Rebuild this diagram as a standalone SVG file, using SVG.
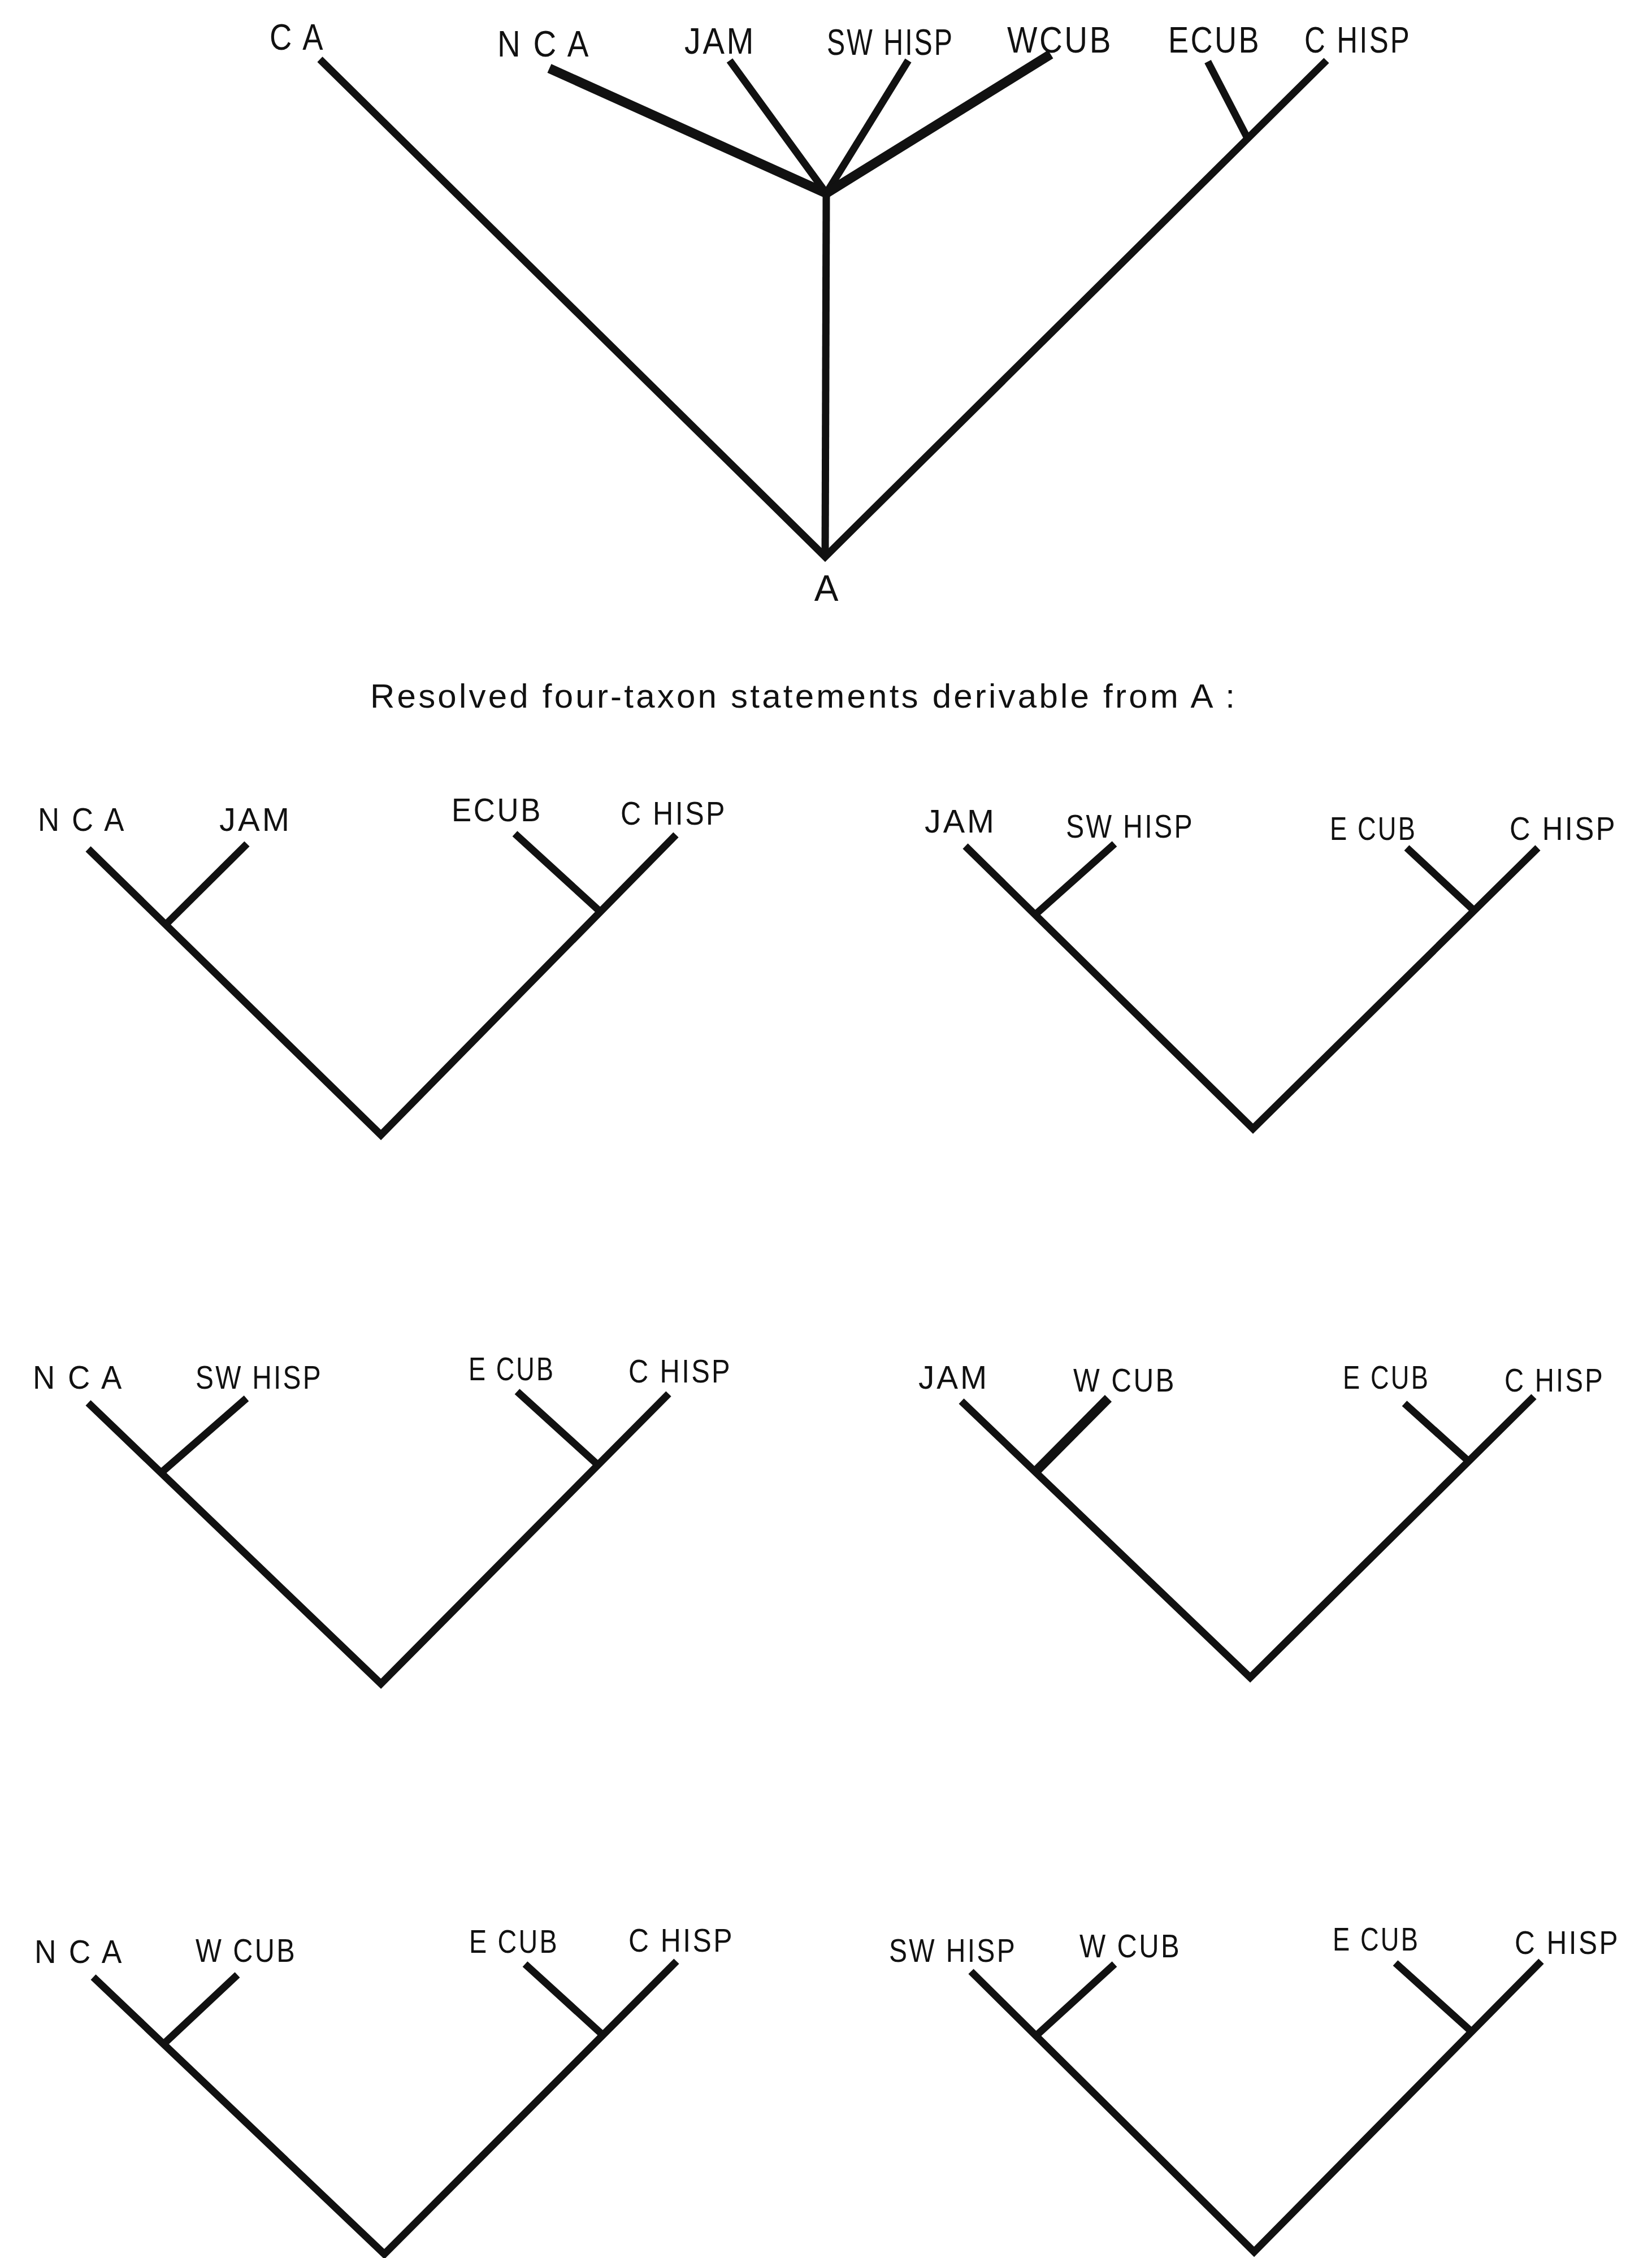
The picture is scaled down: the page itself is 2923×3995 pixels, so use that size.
<svg xmlns="http://www.w3.org/2000/svg" width="2923" height="3995" viewBox="0 0 2923 3995">
  <style>
    .bg { fill: #ffffff; }
    .br { fill: none; stroke: #111; stroke-width: 13; stroke-linecap: butt; stroke-linejoin: miter; stroke-miterlimit: 20; }
    .thick { stroke-width: 17; }
    .lbl { font-family: "Liberation Sans", Arial, sans-serif; font-size: 64px; letter-spacing: 4px; fill: #111; }
    .sm { font-size: 58px; }
    .cap { font-family: "Liberation Sans", Arial, sans-serif; font-size: 60px; fill: #111; }
  </style>
  <rect class="bg" x="0" y="0" width="2923" height="3995"/>

  <!-- Tree A: the full area cladogram with its polytomy -->
  <g id="tree-A">
    <g id="tree-A-branches">
      <polyline class="br" points="566,105 1460,985 2347,107"/>
      <line class="br" x1="1462" y1="342" x2="1460" y2="985"/>
      <line class="br thick" x1="972" y1="121" x2="1462" y2="342"/>
      <line class="br" x1="1291" y1="107" x2="1462" y2="342"/>
      <line class="br" x1="1607" y1="107" x2="1462" y2="342"/>
      <line class="br thick" x1="1859" y1="96" x2="1462" y2="342"/>
      <line class="br" x1="2137" y1="109" x2="2207" y2="244"/>
    </g>
    <g id="A-ca"><text class="lbl" x="477" y="88" textLength="98" lengthAdjust="spacingAndGlyphs">C A</text></g>
    <g id="A-nca"><text class="lbl" x="880" y="100" textLength="165" lengthAdjust="spacingAndGlyphs">N C A</text></g>
    <g id="A-jam"><text class="lbl" x="1211" y="95" textLength="126" lengthAdjust="spacingAndGlyphs">JAM</text></g>
    <g id="A-swhisp"><text class="lbl" x="1463" y="97" textLength="225" lengthAdjust="spacingAndGlyphs">SW HISP</text></g>
    <g id="A-wcub"><text class="lbl" x="1782" y="93" textLength="187" lengthAdjust="spacingAndGlyphs">WCUB</text></g>
    <g id="A-ecub"><text class="lbl" x="2067" y="93" textLength="164" lengthAdjust="spacingAndGlyphs">ECUB</text></g>
    <g id="A-chisp"><text class="lbl" x="2308" y="93" textLength="189" lengthAdjust="spacingAndGlyphs">C HISP</text></g>
    <g id="A-root"><text class="lbl" x="1464" y="1063" text-anchor="middle" letter-spacing="0">A</text></g>
  </g>

  <g id="caption">
    <text class="cap" x="655" y="1252" textLength="1530" lengthAdjust="spacing">Resolved four-taxon statements derivable from  A :</text>
  </g>

  <!-- Row 1 -->
  <g id="tree-1">
    <g id="tree-1-branches">
      <polyline class="br" points="156,1502 674,2008 1196,1477"/>
      <line class="br" x1="293" y1="1636" x2="437" y2="1493"/>
      <line class="br" x1="1062" y1="1613" x2="911" y2="1475"/>
    </g>
    <g id="t1-nca"><text class="lbl sm" x="67" y="1470" textLength="156" lengthAdjust="spacingAndGlyphs">N C A</text></g>
    <g id="t1-jam"><text class="lbl sm" x="388" y="1470" textLength="128" lengthAdjust="spacingAndGlyphs">JAM</text></g>
    <g id="t1-ecub"><text class="lbl sm" x="799" y="1453" textLength="161" lengthAdjust="spacingAndGlyphs">ECUB</text></g>
    <g id="t1-chisp"><text class="lbl sm" x="1098" y="1459" textLength="188" lengthAdjust="spacingAndGlyphs">C HISP</text></g>
  </g>

  <g id="tree-2">
    <g id="tree-2-branches">
      <polyline class="br" points="1708,1497 2217,1997 2721,1500"/>
      <line class="br" x1="1832" y1="1618" x2="1972" y2="1493"/>
      <line class="br" x1="2606" y1="1609" x2="2489" y2="1500"/>
    </g>
    <g id="t2-jam"><text class="lbl sm" x="1636" y="1473" textLength="127" lengthAdjust="spacingAndGlyphs">JAM</text></g>
    <g id="t2-swhisp"><text class="lbl sm" x="1886" y="1482" textLength="227" lengthAdjust="spacingAndGlyphs">SW HISP</text></g>
    <g id="t2-ecub"><text class="lbl sm" x="2353" y="1486" textLength="154" lengthAdjust="spacingAndGlyphs">E CUB</text></g>
    <g id="t2-chisp"><text class="lbl sm" x="2671" y="1486" textLength="190" lengthAdjust="spacingAndGlyphs">C HISP</text></g>
  </g>

  <!-- Row 2 -->
  <g id="tree-3">
    <g id="tree-3-branches">
      <polyline class="br" points="156,2482 674,2979 1183,2466"/>
      <line class="br" x1="287" y1="2604" x2="436" y2="2474"/>
      <line class="br" x1="1057" y1="2591" x2="915" y2="2462"/>
    </g>
    <g id="t3-nca"><text class="lbl sm" x="58" y="2457" textLength="161" lengthAdjust="spacingAndGlyphs">N C A</text></g>
    <g id="t3-swhisp"><text class="lbl sm" x="346" y="2457" textLength="225" lengthAdjust="spacingAndGlyphs">SW HISP</text></g>
    <g id="t3-ecub"><text class="lbl sm" x="829" y="2442" textLength="153" lengthAdjust="spacingAndGlyphs">E CUB</text></g>
    <g id="t3-chisp"><text class="lbl sm" x="1112" y="2446" textLength="183" lengthAdjust="spacingAndGlyphs">C HISP</text></g>
  </g>

  <g id="tree-4">
    <g id="tree-4-branches">
      <polyline class="br" points="1701,2479 2212,2968 2714,2471"/>
      <line class="br thick" x1="1832" y1="2604" x2="1961" y2="2474"/>
      <line class="br" x1="2597" y1="2584" x2="2485" y2="2483"/>
    </g>
    <g id="t4-jam"><text class="lbl sm" x="1625" y="2457" textLength="125" lengthAdjust="spacingAndGlyphs">JAM</text></g>
    <g id="t4-wcub"><text class="lbl sm" x="1899" y="2462" textLength="182" lengthAdjust="spacingAndGlyphs">W CUB</text></g>
    <g id="t4-ecub"><text class="lbl sm" x="2376" y="2457" textLength="154" lengthAdjust="spacingAndGlyphs">E CUB</text></g>
    <g id="t4-chisp"><text class="lbl sm" x="2662" y="2462" textLength="177" lengthAdjust="spacingAndGlyphs">C HISP</text></g>
  </g>

  <!-- Row 3 -->
  <g id="tree-5">
    <g id="tree-5-branches">
      <polyline class="br" points="165,3498 680,3988 1197,3470"/>
      <line class="br" x1="291" y1="3615" x2="420" y2="3494"/>
      <line class="br" x1="1065" y1="3599" x2="929" y2="3475"/>
    </g>
    <g id="t5-nca"><text class="lbl sm" x="61" y="3473" textLength="158" lengthAdjust="spacingAndGlyphs">N C A</text></g>
    <g id="t5-wcub"><text class="lbl sm" x="346" y="3471" textLength="179" lengthAdjust="spacingAndGlyphs">W CUB</text></g>
    <g id="t5-ecub"><text class="lbl sm" x="830" y="3455" textLength="159" lengthAdjust="spacingAndGlyphs">E CUB</text></g>
    <g id="t5-chisp"><text class="lbl sm" x="1112" y="3453" textLength="187" lengthAdjust="spacingAndGlyphs">C HISP</text></g>
  </g>

  <g id="tree-6">
    <g id="tree-6-branches">
      <polyline class="br" points="1718,3488 2219,3984 2727,3470"/>
      <line class="br" x1="1834" y1="3601" x2="1972" y2="3475"/>
      <line class="br" x1="2602" y1="3593" x2="2469" y2="3473"/>
    </g>
    <g id="t6-swhisp"><text class="lbl sm" x="1573" y="3471" textLength="226" lengthAdjust="spacingAndGlyphs">SW HISP</text></g>
    <g id="t6-wcub"><text class="lbl sm" x="1910" y="3463" textLength="180" lengthAdjust="spacingAndGlyphs">W CUB</text></g>
    <g id="t6-ecub"><text class="lbl sm" x="2358" y="3451" textLength="154" lengthAdjust="spacingAndGlyphs">E CUB</text></g>
    <g id="t6-chisp"><text class="lbl sm" x="2680" y="3457" textLength="186" lengthAdjust="spacingAndGlyphs">C HISP</text></g>
  </g>
</svg>
